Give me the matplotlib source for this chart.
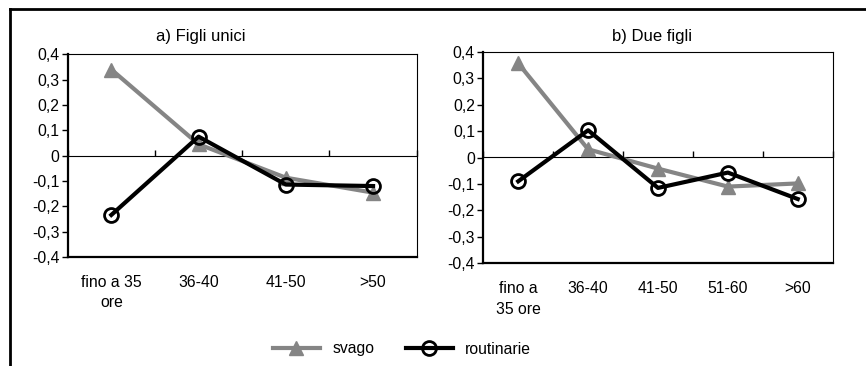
import numpy as np
import matplotlib.pyplot as plt
from matplotlib.lines import Line2D

plt.rcParams['font.family'] = ['Liberation Sans', 'DejaVu Sans']
plt.rcParams['font.size'] = 11.3

# a) Figli unici
cat_a = ['fino a 35\nore', '36-40', '41-50', '>50']
svago_a = [0.34, 0.045, -0.087, -0.146]
routin_a = [-0.234, 0.075, -0.114, -0.12]

# b) Due figli
cat_b = ['fino a\n35 ore', '36-40', '41-50', '51-60', '>60']
svago_b = [0.356, 0.031, -0.042, -0.11, -0.098]
routin_b = [-0.09, 0.103, -0.115, -0.057, -0.157]

yticks = [0.4, 0.3, 0.2, 0.1, 0, -0.1, -0.2, -0.3, -0.4]
GRAY = '#858585'


def fmt(v):
    if v == 0:
        return '0'
    return ('%.1f' % v).replace('.', ',')


def draw(ax, cats, svago, routin, title, title_x):
    x = np.arange(len(cats))
    ax.plot(x, svago, color=GRAY, lw=3, marker='^', ms=10, mec=GRAY, mfc=GRAY,
            zorder=3, label='svago')
    ax.plot(x, routin, color='black', lw=3, marker='o', ms=10, mec='black',
            mfc='none', mew=2, zorder=4, label='routinarie')
    ax.set_xlim(-0.5, len(cats) - 0.5)
    ax.set_ylim(-0.4, 0.4)
    ax.set_yticks(yticks)
    ax.set_yticklabels([fmt(v) for v in yticks])
    ax.set_xticks(x)
    ax.set_xticklabels(cats, linespacing=1.45)
    ax.tick_params(axis='x', length=0, pad=13)
    ax.tick_params(axis='y', length=4, width=1, direction='out', pad=2)
    ax.spines['left'].set_linewidth(1.6)
    ax.spines['bottom'].set_linewidth(1.6)
    ax.spines['top'].set_linewidth(0.8)
    ax.spines['right'].set_linewidth(0.8)
    # horizontal axis at zero, with category boundary ticks
    sec = ax.secondary_xaxis(0.5)
    sec.set_xticks(np.arange(len(cats) + 1) - 0.5)
    sec.set_xticklabels([])
    sec.tick_params(length=4, width=1, direction='out')
    sec.spines['bottom'].set_linewidth(0.8)
    fig.text(title_x, 1 - 37 / 366, title, ha='center', va='center', fontsize=12)


fig = plt.figure(figsize=(8.66, 3.66), dpi=100)
W, H = 866, 366
ax1 = fig.add_axes([67.7 / W, 1 - 257 / H, 349 / W, 202.7 / H])
ax2 = fig.add_axes([483.3 / W, 1 - 263.3 / H, 349.4 / W, 211.6 / H])

draw(ax1, cat_a, svago_a, routin_a, 'a) Figli unici', 201 / W)
draw(ax2, cat_b, svago_b, routin_b, 'b) Due figli', 652 / W)

# outer frame (left and top edges visible)
fig.add_artist(Line2D([10 / W, 10 / W], [0, 1 - 9 / H], color='black', lw=2))
fig.add_artist(Line2D([10 / W, 1], [1 - 9 / H, 1 - 9 / H], color='black', lw=2))

h, l = ax1.get_legend_handles_labels()
fig.legend(h, l, loc='center', bbox_to_anchor=(402 / W, 1 - 349 / H), ncol=2,
           frameon=False, handlelength=3.0, columnspacing=2.0, handletextpad=0.8,
           fontsize=11.3)

fig.savefig('out.png', dpi=100)
